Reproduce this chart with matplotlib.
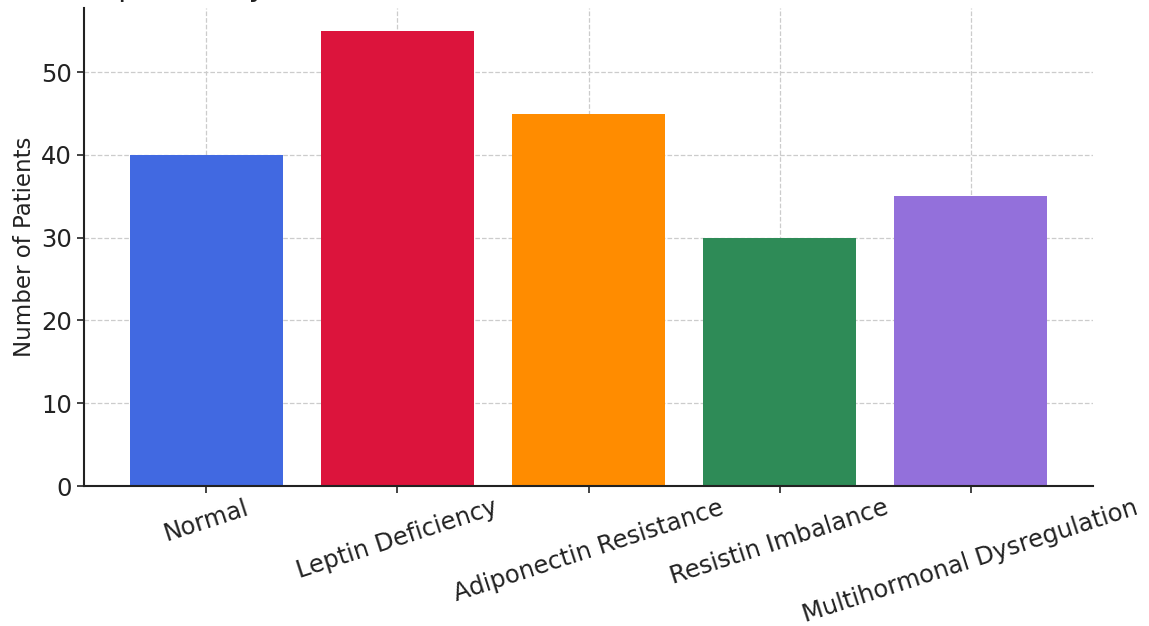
import matplotlib
matplotlib.use("Agg")
import matplotlib.pyplot as plt

plt.rcParams["font.family"] = ["DejaVu Sans"]

categories = ["Normal", "Leptin Deficiency", "Adiponectin Resistance",
              "Resistin Imbalance", "Multihormonal Dysregulation"]
patients = [40, 55, 45, 30, 35]
colors = ["royalblue", "crimson", "darkorange", "seagreen", "mediumpurple"]
title = "Group Sizes by Hormonal Imbalance Status Across the Obese Cohort"

fig = plt.figure(figsize=(11.49, 6.26), dpi=100)
ax = fig.add_axes([84 / 1149, 1 - 486 / 626, (1093 - 84) / 1149, (486 - 8) / 626])

ax.bar(categories, patients, color=colors, width=0.8, zorder=2)
ax.set_ylabel("Number of Patients", fontsize=16.5, color="#222222", labelpad=4)
ax.tick_params(axis="both", labelsize=17.5, colors="#222222", length=5, width=1.2)
ax.tick_params(axis="x", pad=2)
plt.setp(ax.get_xticklabels(), rotation=18)
ax.grid(True, linestyle="--", color="#cccccc", linewidth=0.9, zorder=0)
ax.spines["top"].set_visible(False)
ax.spines["right"].set_visible(False)
ax.spines["left"].set_linewidth(1.5)
ax.spines["bottom"].set_linewidth(1.5)
ax.spines["left"].set_color("#222222")
ax.spines["bottom"].set_color("#222222")

# title sits mostly above the canvas, only descenders show
fig.text(48 / 1149, 1 + 4 / 626, title, fontsize=21, va="baseline", ha="left", color="#222222")

fig.savefig("out.png", dpi=100)
